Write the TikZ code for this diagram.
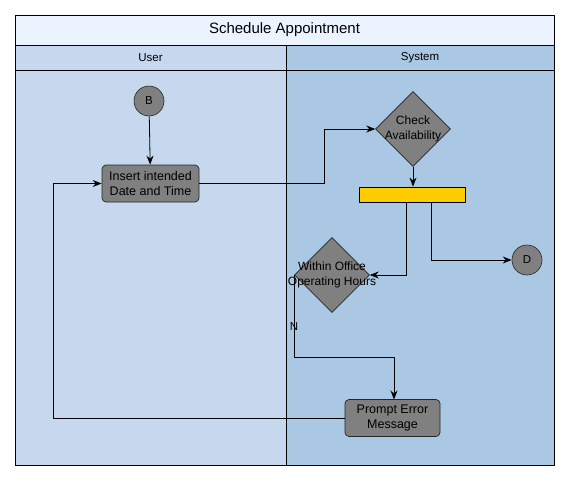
\documentclass[tikz,border=0pt]{standalone}
\usepackage{fontspec}
\setmainfont{Liberation Sans}
\usetikzlibrary{arrows.meta,shapes.geometric}
\definecolor{titlebg}{HTML}{EBF3FE}
\definecolor{userbg}{HTML}{C5D8EE}
\definecolor{sysbg}{HTML}{AAC8E3}
\definecolor{nodegray}{HTML}{808080}
\definecolor{baryellow}{HTML}{FFCC00}
\newcommand{\zl}[1]{\makebox[0pt]{#1}}
\tikzset{
  lane/.style={draw=black, line width=0.8pt},
  actbox/.style={draw=black!85, fill=nodegray, rounded corners=4pt, line width=0.7pt,
    minimum width=97pt, minimum height=37pt, inner sep=1pt, align=center, font=\fontsize{12.5}{15}\selectfont},
  decision/.style={draw=black!85, fill=nodegray, diamond, line width=0.6pt,
    minimum width=75pt, minimum height=75pt, inner sep=0pt, align=center, font=\fontsize{12}{15}\selectfont},
  conn/.style={draw=black!85, fill=nodegray, circle, line width=0.6pt,
    minimum size=30pt, inner sep=0pt, font=\fontsize{11.5}{13}\selectfont},
  flow/.style={draw=black, line width=0.8pt, -{Stealth[length=9pt,width=7pt,inset=3pt]}},
}
\begin{document}
\begin{tikzpicture}[x=1pt,y=-1pt]
\useasboundingbox (0,0) rectangle (570,482);
% lanes
\fill[titlebg] (15,15) rectangle (554,45);
\fill[userbg] (15,45) rectangle (286,465);
\fill[sysbg] (286,45) rectangle (554,465);
\draw[lane] (15,15) rectangle (554,465);
\draw[lane] (15,45) -- (554,45);
\draw[lane] (15,70) -- (554,70);
\draw[lane] (286,45) -- (286,465);
\node[font=\fontsize{15}{17}\selectfont] (title) at (284.5,30) {Schedule Appointment};
\node[font=\fontsize{11.5}{13}\selectfont] (userlbl) at (150.5,57.5) {User};
\node[font=\fontsize{11.5}{13}\selectfont] (syslbl) at (420,57.5) {System};
% nodes
\node[conn] (B) at (149,101) {B};
\node[actbox] (insert) at (150.5,183.5) {Insert intended\\Date and Time};
\node[decision] (check) at (413,129) {\zl{Check}\\\zl{Availability}};
\node[draw=black, fill=baryellow, line width=0.8pt, minimum width=106pt, minimum height=15pt, inner sep=0pt] (bar) at (412,194.5) {};
\node[decision] (within) at (332,275) {\zl{Within Office}\\\zl{Operating Hours}};
\node[conn] (D) at (527,260) {D};
\node[actbox, minimum width=95pt, minimum height=37pt] (prompt) at (392.5,418) {Prompt Error\\Message};
\coordinate (barL) at (406,202);
\coordinate (barR) at (431,202);
% connectors
\draw[flow] (B) -- (insert);
\draw[flow] (insert.east) -- (324,183.5) -- (324,129) -- (check.west);
\draw[flow] (check.south) -- (check.south |- bar.north);
\draw[flow] (barL) -- (406,275) -- (within.east);
\draw[flow] (barR) -- (431,260) -- (D.west);
\draw[flow] (within.west) -- (within.west |- 0,357) -- (394,357) -- (394,399.5);
\node[font=\fontsize{11.5}{13}\selectfont] (nlbl) at (294,327) {N};
\draw[flow] (prompt.west) -- (53,418) -- (53,183.5) -- (insert.west);
\end{tikzpicture}
\end{document}
